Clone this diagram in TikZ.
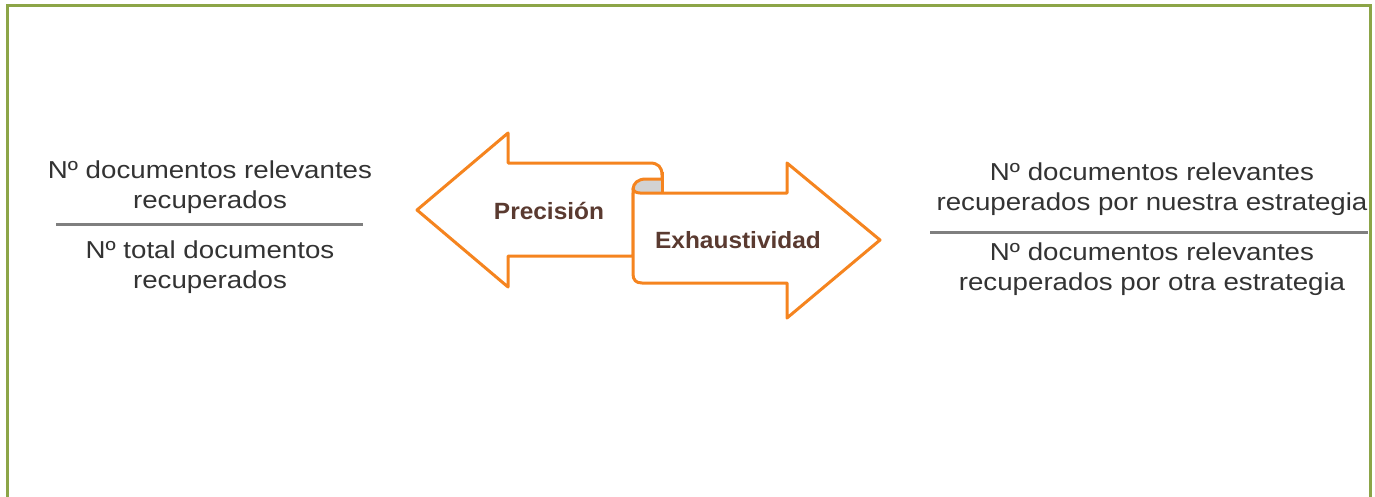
\documentclass[tikz,border=0pt]{standalone}
\usepackage{fontspec}
\setmainfont{Liberation Sans}[FakeStretch=1.13]
\newfontfamily\labelfont{Liberation Sans}[FakeStretch=1.04]
\definecolor{frameg}{HTML}{8CA547}
\definecolor{arroworange}{HTML}{F5841F}
\definecolor{rollgray}{HTML}{D2D2D2}
\definecolor{rulegray}{HTML}{7F7F7F}
\definecolor{txtgray}{HTML}{333333}
\definecolor{labelbrown}{HTML}{5A3A30}
\tikzset{
  txt/.style={anchor=base, inner sep=0pt, text=txtgray, font=\fontsize{24.5}{30}\selectfont},
  lbl/.style={anchor=base, inner sep=0pt, text=labelbrown, font=\labelfont\bfseries\fontsize{23.5}{28}\selectfont},
  arrowshape/.style={draw=arroworange, fill=white, line width=3pt, line join=round},
  fracrule/.style={draw=rulegray, line width=3pt},
}
\begin{document}
\begin{tikzpicture}[x=1pt,y=-1pt]
\useasboundingbox (0,0) rectangle (1375,496);
% frame
\draw[frameg, line width=3pt] (7,520) -- (7,5) -- (1370,5) -- (1370,520);

% left fraction
\node[txt] (l1) at (210,178) {Nº documentos relevantes};
\node[txt] (l2) at (210,208) {recuperados};
\coordinate (lra) at (56,224);
\coordinate (lrb) at (363,224);
\draw[fracrule] (lra) -- (lrb);
\node[txt] (l3) at (210,258) {Nº total documentos};
\node[txt] (l4) at (210,288) {recuperados};

% right fraction
\node[txt] (r1) at (1152,180) {Nº documentos relevantes};
\node[txt] (r2) at (1152,210) {recuperados por nuestra estrategia};
\coordinate (rra) at (930,232);
\coordinate (rrb) at (1368,232);
\draw[fracrule] (rra) -- (rrb);
\node[txt] (r3) at (1152,260) {Nº documentos relevantes};
\node[txt] (r4) at (1152,290) {recuperados por otra estrategia};

% left arrow (behind)
\draw[arrowshape] (417,210) -- (508,133) -- (508,163) -- (650,163)
  .. controls (658,163) and (662,167) .. (662,175) -- (662,193)
  -- (633,193) -- (633,256) -- (508,256) -- (508,287) -- cycle;
% rolled part
\fill[rollgray] (633,190) .. controls (633,183) and (638,179) .. (646,179)
  -- (662,179) -- (662,192) -- (634,192) -- cycle;
\draw[arroworange, line width=3pt, line join=round] (662,179) -- (646,179)
  .. controls (638,179) and (633,183) .. (633,190);
\draw[arroworange, line width=3pt] (662,172) -- (662,193);

% right arrow (front)
\draw[arrowshape] (633,188) -- (633,274) .. controls (633,280) and (636,283) .. (642,283)
  -- (787,283) -- (787,318) -- (880,240) -- (787,163) -- (787,193) -- (640,193)
  .. controls (636,193) and (633,191) .. (633,188) -- cycle;

\node[lbl] (prec) at (549,219) {Precisión};
\node[lbl] (exh) at (738,248) {Exhaustividad};
\end{tikzpicture}
\end{document}
